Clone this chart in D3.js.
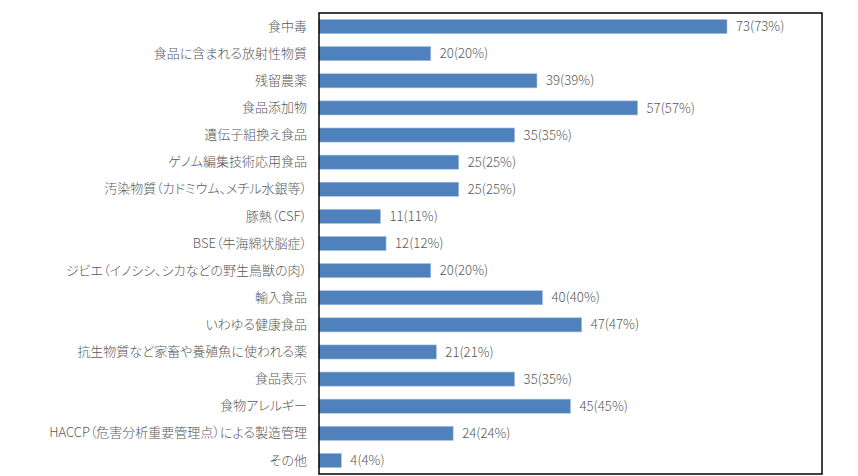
<!DOCTYPE html>
<meta charset="utf-8">
<style>

body {
    background: #fff;
    margin: 0;
    padding: 0;
}

text {
    font-family: "Noto Sans CJK JP", "Noto Sans", sans-serif;
    font-weight: 300;
    fill: #595959;
}

.cat text {
    font-feature-settings: "palt";
}

</style>
<svg width="858" height="476"></svg>

<script src="https://d3js.org/d3.v7.min.js"></script>

<script>
// Categories (top to bottom)
var categories = [
    "食中毒",
    "食品に含まれる放射性物質",
    "残留農薬",
    "食品添加物",
    "遺伝子組換え食品",
    "ゲノム編集技術応用食品",
    "汚染物質（カドミウム、メチル水銀等）",
    "豚熱（CSF）",
    "BSE（牛海綿状脳症）",
    "ジビエ（イノシシ、シカなどの野生鳥獣の肉）",
    "輸入食品",
    "いわゆる健康食品",
    "抗生物質など家畜や養殖魚に使われる薬",
    "食品表示",
    "食物アレルギー",
    "HACCP（危害分析重要管理点）による製造管理",
    "その他"
];

// Number of answers and percent
var counts = [73, 20, 39, 57, 35, 25, 25, 11, 12, 20, 40, 47, 21, 35, 45, 24, 4];
var percents = [73, 20, 39, 57, 35, 25, 25, 11, 12, 20, 40, 47, 21, 35, 45, 24, 4];

var xMax = 90;

var svg = d3.select("svg"),
    plot = {left: 319, right: 822, top: 13, bottom: 474};

var data = categories.map(function(c, i) {
    return {name: c, value: counts[i], pct: percents[i]};
});

var x = d3.scaleLinear()
    .domain([0, xMax])
    .range([plot.left, plot.right]);

var y = d3.scaleBand()
    .domain(categories)
    .range([plot.top, plot.bottom])
    .paddingInner(0.48)
    .paddingOuter(0.24);

// Bars
svg.append("g")
    .selectAll("rect")
    .data(data)
    .enter().append("rect")
      .attr("x", x(0))
      .attr("y", function(d) { return y(d.name); })
      .attr("width", function(d) { return x(d.value) - x(0); })
      .attr("height", y.bandwidth())
      .style("fill", "#4f81bd")
      .style("stroke", "#a7c0de")
      .style("stroke-width", 0.6);

// Category axis (no ticks, no line)
var yAxis = svg.append("g")
    .attr("class", "cat")
    .attr("transform", "translate(" + plot.left + ",0)")
    .call(d3.axisLeft(y).tickSize(0).tickPadding(12));

yAxis.select(".domain").remove();
yAxis.selectAll("text")
    .style("font-size", "13px")
    .style("fill", "#595959")
    .attr("font-family", null);

// Value labels
svg.append("g")
    .selectAll("text")
    .data(data)
    .enter().append("text")
      .attr("x", function(d) { return x(d.value) + 9; })
      .attr("y", function(d) { return y(d.name) + y.bandwidth() / 2; })
      .attr("dy", "0.35em")
      .style("font-size", "13.2px")
      .text(function(d) { return d.value + "(" + d.pct + "%)"; });

// Plot area frame
svg.append("rect")
    .attr("x", plot.left)
    .attr("y", plot.top)
    .attr("width", plot.right - plot.left)
    .attr("height", plot.bottom - plot.top)
    .style("fill", "none")
    .style("stroke", "#000")
    .style("stroke-width", 1.5);

</script>
